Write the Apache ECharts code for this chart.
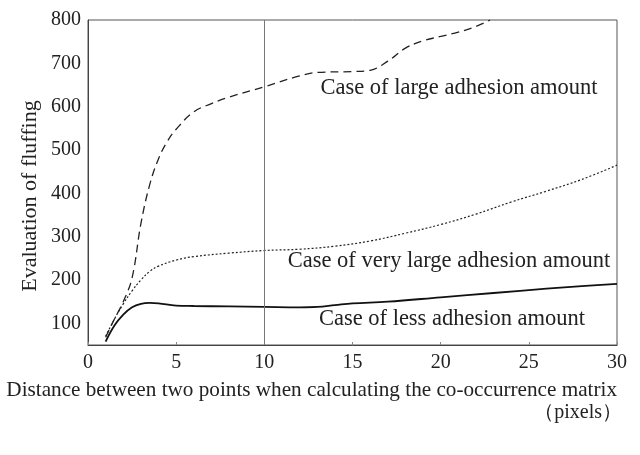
<!DOCTYPE html>
<html>
<head>
<meta charset="utf-8">
<script src="https://cdn.jsdelivr.net/npm/echarts@6/dist/echarts.min.js"></script>
<style>
html,body{margin:0;padding:0;background:#fff;}
#chart{width:640px;height:455px;}
</style>
</head>
<body>
<div id="chart"></div>
<script>
// ---- data ----
var xTicks = [0, 5, 10, 15, 20, 25, 30];
var yTicks = [100, 200, 300, 400, 500, 600, 700, 800];

var xLarge = [1, 1.5, 2, 2.5, 3, 3.5, 4, 4.5, 5, 6, 7, 8, 10, 12, 13, 15, 16, 17, 18, 19, 20, 21, 22, 22.8];
var yLarge = [68, 110, 150, 205, 330, 420, 480, 520, 548, 588, 607, 622, 646, 671, 679, 681, 684, 705, 735, 752, 762, 772, 785, 800];

var xVeryLarge = [1, 1.5, 2, 2.5, 3, 3.5, 4, 5, 6, 8, 10, 12, 14, 16, 18, 20, 22, 24, 26, 28, 30];
var yVeryLarge = [70, 110, 145, 175, 200, 220, 232, 246, 254, 262, 268, 271, 278, 290, 308, 328, 352, 380, 405, 432, 465];

var xLess = [1, 1.5, 2, 2.5, 3, 3.5, 4, 5, 6, 8, 10, 12, 13, 14, 15, 17, 20, 23, 26, 28, 30];
var yLess = [58, 95, 120, 137, 145, 147, 146, 141, 140, 139, 138, 137, 138, 142, 146, 150, 160, 170, 180, 186, 191];

var refX = [10];

var labelLarge = 'Case of large adhesion amount';
var labelVeryLarge = 'Case of very large adhesion amount';
var labelLess = 'Case of less adhesion amount';
var xTitle = 'Distance between two points when calculating the co-occurrence matrix';
var xUnit = '（pixels）';
var yTitle = 'Evaluation of fluffing';

function pairs(xs, ys) { return xs.map(function (x, i) { return [x, ys[i]]; }); }

var FONT = 'Liberation Serif';
var chart = echarts.init(document.getElementById('chart'));
chart.setOption({
  animation: false,
  backgroundColor: '#fff',
  grid: { left: 88, right: 23, top: 20, bottom: 110, show: true, borderColor: '#555', borderWidth: 1, backgroundColor: 'transparent' },
  xAxis: {
    type: 'value', min: xTicks[0], max: xTicks[xTicks.length - 1], interval: 5,
    axisLine: { lineStyle: { color: '#444', width: 1 } },
    axisTick: { show: true, inside: true, length: 3, lineStyle: { color: '#888' } },
    splitLine: { show: false },
    axisLabel: { color: '#222', fontFamily: FONT, fontSize: 20, margin: 8 }
  },
  yAxis: {
    type: 'value', min: 50, max: yTicks[yTicks.length - 1], interval: 50,
    axisLine: { show: true, lineStyle: { color: '#444', width: 1 } },
    axisTick: { show: false },
    splitLine: { show: false },
    axisLabel: {
      color: '#222', fontFamily: FONT, fontSize: 20, margin: 7,
      formatter: function (v) { return yTicks.indexOf(v) >= 0 ? String(v) : ''; }
    }
  },
  series: [
    {
      name: labelLarge, type: 'line', data: pairs(xLarge, yLarge), smooth: 0.4, showSymbol: false, symbol: 'none',
      lineStyle: { color: '#222', width: 1.3, type: [8, 5] }, clip: true,
      markLine: {
        silent: true, symbol: 'none', label: { show: false },
        lineStyle: { color: '#777', width: 1, type: 'solid' },
        data: refX.map(function (x) { return { xAxis: x }; })
      }
    },
    {
      name: labelVeryLarge, type: 'line', data: pairs(xVeryLarge, yVeryLarge), smooth: 0.4, showSymbol: false, symbol: 'none',
      lineStyle: { color: '#222', width: 1.2, type: [2, 2] }
    },
    {
      name: labelLess, type: 'line', data: pairs(xLess, yLess), smooth: 0.4, showSymbol: false, symbol: 'none',
      lineStyle: { color: '#111', width: 1.8, type: 'solid' }
    }
  ],
  graphic: [
    { type: 'text', x: 30, y: 196, rotation: Math.PI / 2, style: { text: yTitle, fontFamily: FONT, fontSize: 22, fill: '#222', align: 'center', verticalAlign: 'middle' } },
    { type: 'text', x: 459, y: 88, style: { text: labelLarge, fontFamily: FONT, fontSize: 22.5, fill: '#222', align: 'center', verticalAlign: 'middle' } },
    { type: 'text', x: 449, y: 261, style: { text: labelVeryLarge, fontFamily: FONT, fontSize: 22.5, fill: '#222', align: 'center', verticalAlign: 'middle' } },
    { type: 'text', x: 452, y: 319, style: { text: labelLess, fontFamily: FONT, fontSize: 22.5, fill: '#222', align: 'center', verticalAlign: 'middle' } },
    { type: 'text', x: 617, y: 390, style: { text: xTitle, fontFamily: FONT, fontSize: 21.2, fill: '#222', align: 'right', verticalAlign: 'middle' } },
    { type: 'text', x: 622, y: 413, style: { text: xUnit, fontFamily: FONT, fontSize: 20, fill: '#222', align: 'right', verticalAlign: 'middle' } }
  ]
});
</script>
</body>
</html>
